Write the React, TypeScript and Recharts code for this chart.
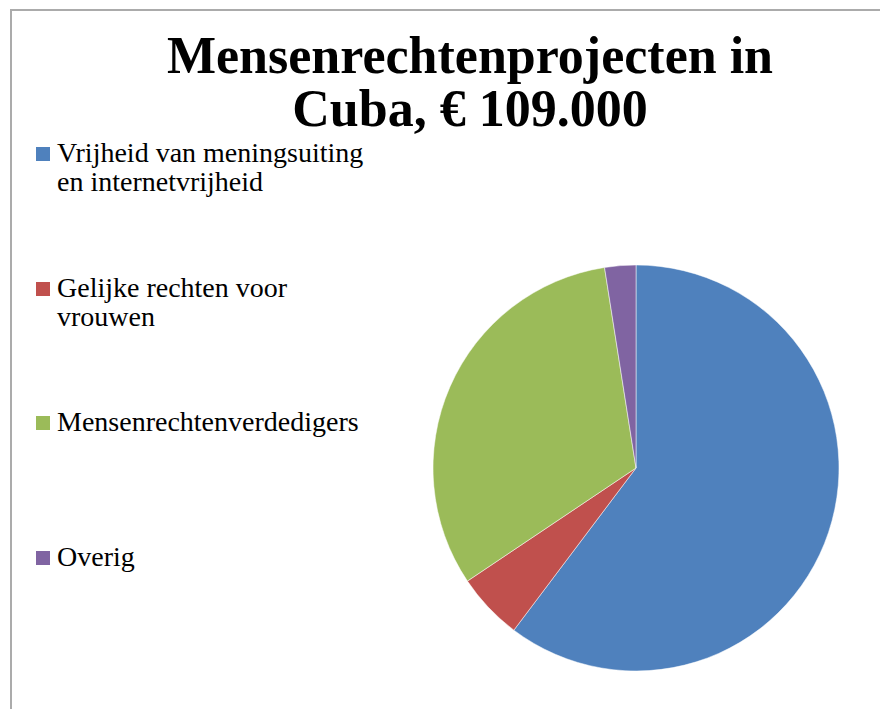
import { Cell, Pie, PieChart } from "recharts";

const categories = [
  "Vrijheid van meningsuiting en internetvrijheid",
  "Gelijke rechten voor vrouwen",
  "Mensenrechtenverdedigers",
  "Overig",
];
const legendLines = [
  ["Vrijheid van meningsuiting", "en internetvrijheid"],
  ["Gelijke rechten voor", "vrouwen"],
  ["Mensenrechtenverdedigers"],
  ["Overig"],
];
const amounts = [65700, 5800, 34800, 2700];
const colors = ["#4F81BD", "#C0504D", "#9BBB59", "#8064A2"];
const titleLines = ["Mensenrechtenprojecten in", "Cuba, € 109.000"];

const data = categories.map((name, i) => ({ name, value: amounts[i] }));

const FONT = '"Liberation Serif", "DejaVu Serif", serif';

function LegendBlock() {
  return (
    <div style={{ fontFamily: FONT, fontSize: 28, color: "#000" }}>
      {legendLines.map((lines, i) => (
        <div
          key={i}
          style={{
            position: "absolute",
            left: 0,
            top: i * 134.5,
            display: "flex",
            alignItems: "flex-start",
            whiteSpace: "nowrap",
          }}
        >
          <span
            style={{
              width: 14,
              height: 14,
              background: colors[i],
              marginTop: 9,
              marginRight: 7,
              flex: "none",
            }}
          />
          <div style={{ lineHeight: "29px" }}>
            {lines.map((l, j) => (
              <div key={j}>{l}</div>
            ))}
          </div>
        </div>
      ))}
    </div>
  );
}

export default function App() {
  return (
    <div
      style={{
        position: "fixed",
        left: 0,
        top: 0,
        width: 880,
        height: 709,
        overflow: "hidden",
        background: "#fff",
      }}
    >
      <div
        style={{
          position: "absolute",
          left: 10,
          top: 9,
          right: 0,
          bottom: 0,
          borderTop: "2px solid #ababab",
          borderLeft: "2px solid #ababab",
        }}
      />
      <div
        style={{
          position: "absolute",
          left: 0,
          width: 940,
          top: 29,
          textAlign: "center",
          fontFamily: FONT,
          fontWeight: "bold",
          fontSize: 52,
          lineHeight: "53px",
          color: "#000",
        }}
      >
        {titleLines.map((t) => (
          <div key={t}>{t}</div>
        ))}
      </div>
      <div style={{ position: "absolute", left: 0, top: 0 }}>
        <PieChart
          width={880}
          height={709}
          margin={{ top: 0, right: 0, bottom: 0, left: 0 }}
        >
          <Pie
            data={data}
            dataKey="value"
            nameKey="name"
            cx={636}
            cy={468}
            outerRadius={203}
            startAngle={90}
            endAngle={-270}
            stroke="#ffffff"
            strokeWidth={0.5}
            isAnimationActive={false}
          >
            {data.map((d, i) => (
              <Cell key={d.name} fill={colors[i]} />
            ))}
          </Pie>
        </PieChart>
      </div>
      <div style={{ position: "absolute", left: 36, top: 138 }}>
        <LegendBlock />
      </div>
    </div>
  );
}
